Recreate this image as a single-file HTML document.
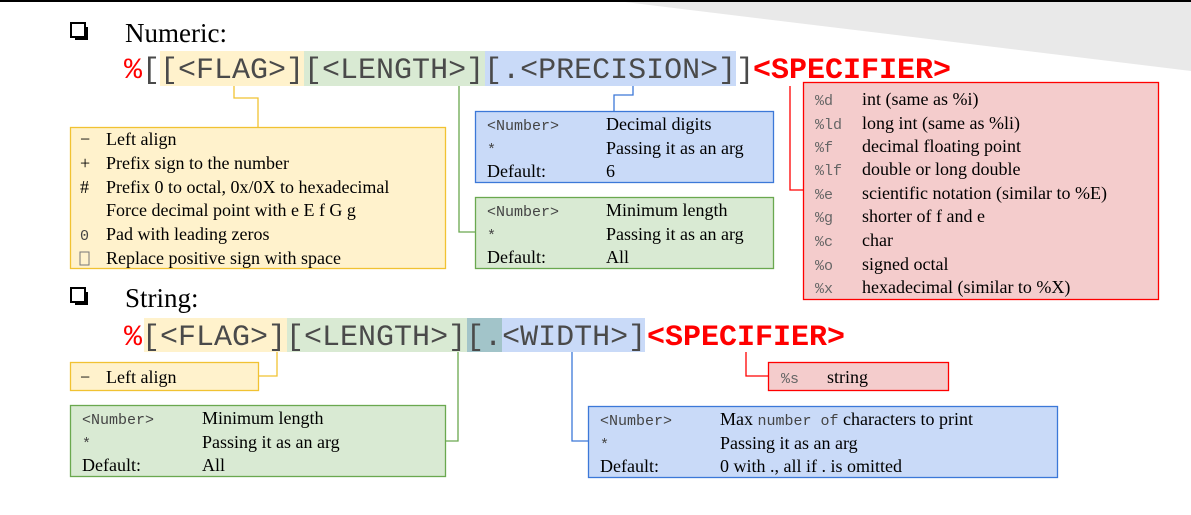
<!DOCTYPE html>
<html><head><meta charset="utf-8"><style>
html,body{margin:0;padding:0;background:#fff;}
svg{display:block;}
.m{font-family:"Liberation Mono",monospace;}
.s{font-family:"Liberation Serif",serif;}
</style></head><body>
<svg width="1191" height="515" viewBox="0 0 1191 515" xmlns="http://www.w3.org/2000/svg">
<rect x="0" y="0" width="1191" height="515" fill="#fff"/>
<polygon points="625,2 1191,2 1191,71" fill="#e9e9e9"/>
<rect x="0" y="0" width="1191" height="2" fill="#000"/>

<!-- Numeric heading -->
<rect x="75" y="27" width="13" height="13" fill="#000"/>
<rect x="71" y="23" width="14" height="14" fill="#fff" stroke="#000" stroke-width="2"/>
<text x="125" y="42" class="s" font-size="27" fill="#000">Numeric:</text>

<!-- highlights -->
<rect x="160" y="51" width="144" height="35" fill="#fff2cc"/>
<rect x="304" y="51" width="181" height="35" fill="#d9ead3"/>
<rect x="485" y="51" width="251" height="35" fill="#c9daf8"/>
<text x="124" y="78" class="m" font-size="30" fill="#4a4a4a"><tspan fill="#ff0000">%</tspan>[[&lt;FLAG&gt;][&lt;LENGTH&gt;][.&lt;PRECISION&gt;]]</text>
<text x="753" y="78" class="m" font-size="30" font-weight="bold" fill="#ff0000">&lt;SPECIFIER&gt;</text>

<!-- connectors numeric -->
<polyline points="234,86 234,98 258,98 258,127" fill="none" stroke="#f1c232" stroke-width="1.3"/>
<polyline points="633,86 633,95 614,95 614,111" fill="none" stroke="#3c78d8" stroke-width="1.3"/>
<polyline points="459,86 459,232 475,232" fill="none" stroke="#6aa84f" stroke-width="1.3"/>
<polyline points="790,86 790,190 803,190" fill="none" stroke="#ff0000" stroke-width="1.3"/>

<!-- flag box -->
<rect x="70.5" y="127.5" width="375" height="141" fill="#fff2cc" stroke="#f1c232" stroke-width="1.3"/>
<g class="s" font-size="18" fill="#000">
<text x="80" y="145">−</text><text x="106" y="145">Left align</text>
<text x="80" y="169">+</text><text x="106" y="169">Prefix sign to the number</text>
<text x="80" y="193">#</text><text x="106" y="193">Prefix 0 to octal, 0x/0X to hexadecimal</text>
<text x="106" y="216">Force decimal point with e E f G g</text>
<text x="80" y="240" class="m" font-size="15" fill="#444">0</text><text x="106" y="240">Pad with leading zeros</text>
<rect x="80" y="252" width="9" height="13" fill="none" stroke="#777" stroke-width="1"/><text x="106" y="264">Replace positive sign with space</text>
</g>

<!-- precision box -->
<rect x="475.5" y="111.5" width="298" height="71" fill="#c9daf8" stroke="#3c78d8" stroke-width="1.3"/>
<g font-size="18" fill="#000">
<text x="487" y="130" class="m" font-size="15" fill="#444">&lt;Number&gt;</text><text x="606" y="130" class="s">Decimal digits</text>
<text x="487" y="154" class="m" font-size="15" fill="#444">*</text><text x="606" y="154" class="s">Passing it as an arg</text>
<text x="487" y="177" class="s">Default:</text><text x="606" y="177" class="s">6</text>
</g>

<!-- length box -->
<rect x="475.5" y="197.5" width="298" height="71" fill="#d9ead3" stroke="#6aa84f" stroke-width="1.3"/>
<g font-size="18" fill="#000">
<text x="487" y="216" class="m" font-size="15" fill="#444">&lt;Number&gt;</text><text x="606" y="216" class="s">Minimum length</text>
<text x="487" y="240" class="m" font-size="15" fill="#444">*</text><text x="606" y="240" class="s">Passing it as an arg</text>
<text x="487" y="263" class="s">Default:</text><text x="606" y="263" class="s">All</text>
</g>

<!-- specifier box -->
<rect x="803.5" y="82.5" width="355" height="217" fill="#f4cccc" stroke="#ff0000" stroke-width="1.3"/>
<g font-size="18" fill="#000">
<text x="815" y="105" class="m" font-size="15" fill="#666">%d</text><text x="862" y="105" class="s">int (same as %i)</text>
<text x="815" y="129" class="m" font-size="15" fill="#666">%ld</text><text x="862" y="129" class="s">long int (same as  %li)</text>
<text x="815" y="152" class="m" font-size="15" fill="#666">%f</text><text x="862" y="152" class="s">decimal floating point</text>
<text x="815" y="175" class="m" font-size="15" fill="#666">%lf</text><text x="862" y="175" class="s">double or long double</text>
<text x="815" y="199" class="m" font-size="15" fill="#666">%e</text><text x="862" y="199" class="s">scientific notation (similar to %E)</text>
<text x="815" y="222" class="m" font-size="15" fill="#666">%g</text><text x="862" y="222" class="s">shorter of f and e</text>
<text x="815" y="246" class="m" font-size="15" fill="#666">%c</text><text x="862" y="246" class="s">char</text>
<text x="815" y="270" class="m" font-size="15" fill="#666">%o</text><text x="862" y="270" class="s">signed octal</text>
<text x="815" y="293" class="m" font-size="15" fill="#666">%x</text><text x="862" y="293" class="s">hexadecimal (similar to %X)</text>
</g>

<!-- String heading -->
<rect x="75" y="292" width="13" height="13" fill="#000"/>
<rect x="71" y="288" width="14" height="14" fill="#fff" stroke="#000" stroke-width="2"/>
<text x="125" y="307" class="s" font-size="27" fill="#000">String:</text>

<rect x="144" y="318" width="143" height="34" fill="#fff2cc"/>
<rect x="287" y="318" width="180" height="34" fill="#d9ead3"/>
<rect x="467" y="318" width="35" height="34" fill="#a2c4c9"/>
<rect x="502" y="318" width="143" height="34" fill="#c9daf8"/>
<text x="124" y="345" class="m" font-size="30" fill="#4a4a4a"><tspan fill="#ff0000">%</tspan>[&lt;FLAG&gt;][&lt;LENGTH&gt;][.&lt;WIDTH&gt;]</text>
<text x="647" y="345" class="m" font-size="30" font-weight="bold" fill="#ff0000">&lt;SPECIFIER&gt;</text>

<polyline points="277,352 277,376 258,376" fill="none" stroke="#f1c232" stroke-width="1.3"/>
<polyline points="458,352 458,441 445,441" fill="none" stroke="#6aa84f" stroke-width="1.3"/>
<polyline points="572,352 572,441 588,441" fill="none" stroke="#3c78d8" stroke-width="1.3"/>
<polyline points="746,352 746,376 768,376" fill="none" stroke="#ff0000" stroke-width="1.3"/>

<rect x="70.5" y="362.5" width="188" height="28" fill="#fff2cc" stroke="#f1c232" stroke-width="1.3"/>
<text x="80" y="383" class="s" font-size="18">−</text><text x="106" y="383" class="s" font-size="18">Left align</text>

<rect x="768.5" y="362.5" width="180" height="28" fill="#f4cccc" stroke="#ff0000" stroke-width="1.3"/>
<text x="781" y="383" class="m" font-size="15" fill="#666">%s</text><text x="827" y="383" class="s" font-size="18">string</text>

<rect x="70.5" y="405.5" width="375" height="71" fill="#d9ead3" stroke="#6aa84f" stroke-width="1.3"/>
<g font-size="18" fill="#000">
<text x="82" y="424" class="m" font-size="15" fill="#444">&lt;Number&gt;</text><text x="202" y="424" class="s">Minimum length</text>
<text x="82" y="448" class="m" font-size="15" fill="#444">*</text><text x="202" y="448" class="s">Passing it as an arg</text>
<text x="82" y="471" class="s">Default:</text><text x="202" y="471" class="s">All</text>
</g>

<rect x="588.5" y="406.5" width="469" height="71" fill="#c9daf8" stroke="#3c78d8" stroke-width="1.3"/>
<g font-size="18" fill="#000">
<text x="600" y="425" class="m" font-size="15" fill="#444">&lt;Number&gt;</text><text x="720" y="425" class="s">Max <tspan class="m" font-size="15" fill="#444">number of</tspan> characters to print</text>
<text x="600" y="449" class="m" font-size="15" fill="#444">*</text><text x="720" y="449" class="s">Passing it as an arg</text>
<text x="600" y="472" class="s">Default:</text><text x="720" y="472" class="s">0 with ., all if . is omitted</text>
</g>
</svg>
</body></html>
